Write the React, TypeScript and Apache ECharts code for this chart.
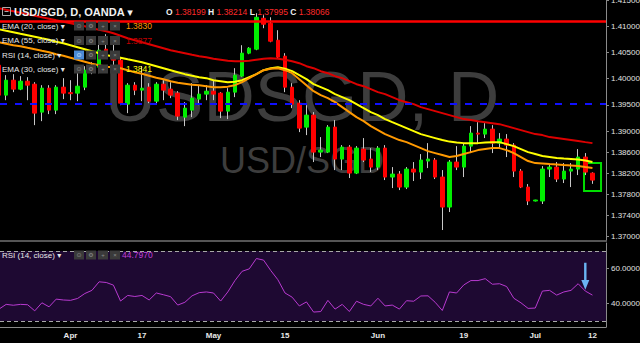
import React, { useEffect, useRef } from 'react';
import * as echarts from 'echarts';

// ---------- data ----------
const opens = [
  1.40257, 1.39686, 1.39971, 1.39800, 1.39952, 1.39895, 1.39362, 1.39819, 1.39400, 1.39838,
  1.39733, 1.39724, 1.39838, 1.40143, 1.40219, 1.40562, 1.40505, 1.40352, 1.39514, 1.39876,
  1.39781, 1.39838, 1.39571, 1.39895, 1.39800, 1.39724, 1.39267, 1.39400, 1.39610, 1.39705,
  1.39762, 1.39724, 1.39381, 1.39743, 1.40048, 1.40486, 1.40562, 1.41152, 1.41057, 1.40733,
  1.40429, 1.39838, 1.39533, 1.39076, 1.39305, 1.38600, 1.38600, 1.39076, 1.38467, 1.38695,
  1.38200, 1.38657, 1.38467, 1.38314, 1.38676, 1.38124, 1.38181, 1.37933, 1.38276, 1.38219,
  1.38429, 1.38448, 1.38124, 1.37552, 1.38410, 1.38314, 1.38714, 1.38962, 1.38943, 1.39038,
  1.38771, 1.38848, 1.38733, 1.38238, 1.37933, 1.37667, 1.37667, 1.38276, 1.38314, 1.38086,
  1.38238, 1.38276, 1.38505, 1.38199,
];
const highs = [
  1.40352, 1.40067, 1.40086, 1.40048, 1.40029, 1.39933, 1.39876, 1.39876, 1.39876, 1.40010,
  1.39971, 1.40105, 1.40238, 1.40314, 1.40733, 1.40848, 1.40790, 1.40390, 1.39914, 1.39933,
  1.40238, 1.39914, 1.39933, 1.39971, 1.39933, 1.39762, 1.39552, 1.39914, 1.39876, 1.39876,
  1.39971, 1.39743, 1.39819, 1.40200, 1.40638, 1.40600, 1.41248, 1.41210, 1.41171, 1.40924,
  1.40486, 1.39914, 1.39590, 1.39495, 1.39362, 1.38886, 1.39114, 1.39210, 1.38733, 1.38733,
  1.38714, 1.38867, 1.38676, 1.38714, 1.38733, 1.38314, 1.38238, 1.38314, 1.38410, 1.38562,
  1.38771, 1.38486, 1.38257, 1.38448, 1.38714, 1.38771, 1.39095, 1.39171, 1.39152, 1.39114,
  1.38962, 1.38943, 1.38771, 1.38276, 1.37990, 1.37690, 1.38333, 1.38352, 1.38410, 1.38390,
  1.38390, 1.38657, 1.38581, 1.38214,
];
const lows = [
  1.39629, 1.39590, 1.39743, 1.39781, 1.39590, 1.39114, 1.39190, 1.39324, 1.39324, 1.39610,
  1.39590, 1.39571, 1.39781, 1.40086, 1.40105, 1.40448, 1.40238, 1.39495, 1.39343, 1.39686,
  1.39571, 1.39533, 1.39514, 1.39590, 1.39629, 1.39210, 1.39095, 1.39267, 1.39495, 1.39590,
  1.39590, 1.39248, 1.39229, 1.39648, 1.40029, 1.40467, 1.40543, 1.40962, 1.40695, 1.40390,
  1.39743, 1.39438, 1.38981, 1.38924, 1.38410, 1.38505, 1.38581, 1.38257, 1.38257, 1.38105,
  1.38181, 1.38410, 1.38219, 1.38257, 1.38067, 1.37914, 1.37876, 1.37895, 1.38048, 1.38086,
  1.38295, 1.38086, 1.37114, 1.37457, 1.38257, 1.38124, 1.38581, 1.38771, 1.38867, 1.38581,
  1.38676, 1.38505, 1.38124, 1.37914, 1.37590, 1.37660, 1.37610, 1.38124, 1.38029, 1.38010,
  1.37933, 1.38162, 1.38162, 1.37995,
];
const closes = [
  1.39686, 1.39971, 1.39800, 1.39952, 1.39876, 1.39343, 1.39819, 1.39400, 1.39838, 1.39724,
  1.39714, 1.39857, 1.40162, 1.40238, 1.40543, 1.40524, 1.40352, 1.39533, 1.39876, 1.39781,
  1.39819, 1.39571, 1.39895, 1.39781, 1.39686, 1.39286, 1.39438, 1.39629, 1.39705, 1.39762,
  1.39705, 1.39381, 1.39743, 1.40067, 1.40486, 1.40581, 1.41171, 1.41038, 1.40714, 1.40410,
  1.39838, 1.39514, 1.39057, 1.39305, 1.38600, 1.38638, 1.39076, 1.38467, 1.38695, 1.38200,
  1.38676, 1.38448, 1.38314, 1.38676, 1.38124, 1.38181, 1.37933, 1.38276, 1.38219, 1.38448,
  1.38467, 1.38124, 1.37552, 1.38410, 1.38314, 1.38714, 1.38962, 1.38943, 1.39038, 1.38771,
  1.38848, 1.38733, 1.38238, 1.37933, 1.37667, 1.37686, 1.38276, 1.38314, 1.38086, 1.38238,
  1.38276, 1.38505, 1.38219, 1.38066,
];
const ema20 = [
  1.40695, 1.40667, 1.40638, 1.40619, 1.40590, 1.40562, 1.40533, 1.40505, 1.40467, 1.40438,
  1.40400, 1.40362, 1.40324, 1.40286, 1.40257, 1.40229, 1.40219, 1.40200, 1.40162, 1.40124,
  1.40095, 1.40057, 1.40019, 1.39990, 1.39952, 1.39924, 1.39905, 1.39886, 1.39876, 1.39857,
  1.39838, 1.39838, 1.39848, 1.39876, 1.39933, 1.40010, 1.40086, 1.40162, 1.40190, 1.40200,
  1.40162, 1.40105, 1.39990, 1.39876, 1.39762, 1.39686, 1.39629, 1.39552, 1.39457, 1.39362,
  1.39267, 1.39190, 1.39095, 1.39019, 1.38943, 1.38886, 1.38829, 1.38790, 1.38733, 1.38676,
  1.38619, 1.38581, 1.38543, 1.38505, 1.38524, 1.38562, 1.38600, 1.38638, 1.38657, 1.38676,
  1.38676, 1.38638, 1.38581, 1.38505, 1.38429, 1.38390, 1.38381, 1.38371, 1.38362, 1.38352,
  1.38343, 1.38333, 1.38314, 1.38298,
];
const ema30 = [
  1.40943, 1.40914, 1.40886, 1.40857, 1.40829, 1.40800, 1.40771, 1.40743, 1.40705, 1.40676,
  1.40638, 1.40600, 1.40562, 1.40524, 1.40486, 1.40448, 1.40429, 1.40400, 1.40371, 1.40343,
  1.40314, 1.40276, 1.40238, 1.40200, 1.40162, 1.40124, 1.40086, 1.40057, 1.40029, 1.40010,
  1.39971, 1.39952, 1.39933, 1.39943, 1.39971, 1.40029, 1.40086, 1.40162, 1.40200, 1.40219,
  1.40190, 1.40143, 1.40067, 1.39990, 1.39895, 1.39838, 1.39781, 1.39705, 1.39648, 1.39590,
  1.39514, 1.39438, 1.39362, 1.39305, 1.39229, 1.39171, 1.39114, 1.39057, 1.39000, 1.38943,
  1.38905, 1.38867, 1.38829, 1.38800, 1.38781, 1.38771, 1.38771, 1.38771, 1.38781, 1.38790,
  1.38790, 1.38752, 1.38714, 1.38657, 1.38600, 1.38562, 1.38524, 1.38505, 1.38486, 1.38476,
  1.38467, 1.38457, 1.38438, 1.38410,
];
const ema55 = [
  1.41343, 1.41314, 1.41286, 1.41257, 1.41229, 1.41200, 1.41171, 1.41143, 1.41114, 1.41086,
  1.41057, 1.41029, 1.41000, 1.40962, 1.40933, 1.40905, 1.40867, 1.40819, 1.40771, 1.40733,
  1.40695, 1.40657, 1.40619, 1.40581, 1.40543, 1.40514, 1.40486, 1.40457, 1.40429, 1.40410,
  1.40381, 1.40362, 1.40343, 1.40333, 1.40333, 1.40343, 1.40362, 1.40381, 1.40390, 1.40381,
  1.40362, 1.40333, 1.40295, 1.40238, 1.40200, 1.40143, 1.40105, 1.40048, 1.40010, 1.39952,
  1.39895, 1.39857, 1.39800, 1.39743, 1.39705, 1.39648, 1.39590, 1.39552, 1.39514, 1.39457,
  1.39419, 1.39381, 1.39343, 1.39305, 1.39267, 1.39229, 1.39210, 1.39190, 1.39171, 1.39152,
  1.39133, 1.39095, 1.39057, 1.39019, 1.38981, 1.38943, 1.38924, 1.38886, 1.38867, 1.38848,
  1.38829, 1.38810, 1.38790, 1.38771,
];
const rsi14 = [
  36.8, 39.5, 39.0, 39.5, 39.3, 35.8, 40.4, 38.1, 42.5, 42.0,
  41.8, 42.9, 45.7, 47.5, 52.4, 52.0, 50.5, 41.4, 44.6, 44.0,
  44.6, 42.0, 46.0, 45.0, 43.9, 39.1, 40.7, 44.4, 46.2, 46.6,
  46.0, 41.4, 46.6, 53.1, 58.4, 59.8, 65.7, 64.8, 58.9, 53.6,
  46.0, 43.6, 38.6, 40.9, 35.1, 35.4, 41.8, 36.8, 39.5, 35.4,
  41.3, 39.5, 38.6, 43.0, 38.6, 39.1, 36.8, 41.6, 41.3, 44.3,
  44.4, 40.7, 36.0, 46.6, 46.0, 50.6, 53.1, 53.1, 54.2, 51.0,
  51.3, 49.7, 43.0, 40.4, 37.2, 37.4, 47.1, 47.5, 44.8, 46.6,
  47.5, 51.3, 47.1, 44.797,
];
const priceTicks = [1.415, 1.41, 1.405, 1.4, 1.395, 1.39, 1.386, 1.382, 1.378, 1.374, 1.37];
const rsiTicks = [40, 60];
const rsiBands = [30, 70];
const dateTickIndex = [10, 20, 30, 40, 53, 65, 75, 83];
const dateTickLabels = ['Apr', '17', 'May', '15', 'Jun', '19', 'Jul', '12'];
const resistanceLevel = 1.41095;
const supportLevel = 1.39514;
const highlightFrom = 81.82;
const highlightTo = 84.2;
const highlightTop = 1.3839;
const highlightBottom = 1.37857;
const arrowIndex = 82;
const arrowValue = 55.5;

// ---------- layout ----------
const FONT = '"Liberation Sans", Arial, "DejaVu Sans", sans-serif';
const PLOT_W = 606;
const X_MIN = 0.14;
const X_MAX = 84.895;
const P_MIN = 1.369048;
const P_MAX = 1.415;
const R_MIN = 26.571;
const R_MAX = 74.571;

function legendRow(y: number, name: string, value: string, valueColor: string, blue: boolean, valueX = 126): any[] {
  const els: any[] = [];
  els.push({
    type: 'text', x: 2, y, z: 100,
    style: { text: name + ' \u25BE', fill: '#e6e6e6', font: `8px ${FONT}`, verticalAlign: 'middle' },
  });
  const glyphs = ['\u2299', '\u2699', '+', '\u00D7'];
  [74, 86, 98, 110].forEach((x, k) => {
    els.push({
      type: 'rect', z: 100,
      shape: { x, y: y - 4.5, width: 10, height: 9 },
      style: { fill: blue && k === 0 ? '#4a8ad6' : '#3a3a3a' },
    });
    els.push({
      type: 'text', x: x + 5, y, z: 101,
      style: { text: glyphs[k], fill: blue && k === 0 ? '#dfeaff' : '#8c8c8c', font: `6px ${FONT}`, align: 'center', verticalAlign: 'middle' },
    });
  });
  if (value) {
    els.push({
      type: 'text', x: valueX, y, z: 100,
      style: { text: value, fill: valueColor, font: `8.5px ${FONT}`, verticalAlign: 'middle' },
    });
  }
  return els;
}

export default function App() {
  const ref = useRef<HTMLDivElement>(null);

  useEffect(() => {
    if (!ref.current) return;
    const chart = echarts.init(ref.current, null, { renderer: 'svg' });
    const n = opens.length;
    const last = n - 1;

    const wickData = opens.map((o, i) => [i, o, closes[i], lows[i], highs[i]]);
    const bodyData = opens.map((o, i) => [i, o, closes[i], Math.min(o, closes[i]), Math.max(o, closes[i])]);

    const graphics: any[] = [
      // watermark
      {
        type: 'text', x: 302, y: 96, z: -10,
        style: { text: 'USDSGD, D', fill: '#3d3d3d', font: `71px ${FONT}`, align: 'center', verticalAlign: 'middle' },
      },
      {
        type: 'text', x: 302, y: 160, z: -10,
        style: { text: 'USD/SGD', fill: '#3d3d3d', font: `36px ${FONT}`, align: 'center', verticalAlign: 'middle' },
      },
      // header
      {
        type: 'rect', z: 100, shape: { x: 2.5, y: 7.5, width: 8, height: 8 },
        style: { fill: 'none', stroke: '#aaaaaa', lineWidth: 1 },
      },
      {
        type: 'line', z: 100, shape: { x1: 4.5, y1: 11.5, x2: 8.5, y2: 11.5 },
        style: { stroke: '#aaaaaa', lineWidth: 1 },
      },
      {
        type: 'text', x: 14, y: 12, z: 100,
        style: { text: 'USD/SGD, D, OANDA \u25BE', fill: '#f2f2f2', font: `bold 11px ${FONT}`, verticalAlign: 'middle' },
      },
      {
        type: 'text', x: 166, y: 12, z: 100,
        style: {
          text: `{l|O} {v|${opens[last].toFixed(5)}} {l|H} {v|${highs[last].toFixed(5)}} {l|L} {v|${lows[last].toFixed(5)}} {l|C} {v|${closes[last].toFixed(5)}}`,
          font: `8.5px ${FONT}`, fill: '#ffffff', verticalAlign: 'middle',
          rich: {
            l: { fill: '#f0f0f0', fontWeight: 'bold', fontSize: 8.5, fontFamily: FONT },
            v: { fill: '#ff2a2a', fontSize: 8.5, fontFamily: FONT },
          },
        },
      },
      ...legendRow(26, 'EMA (20, close)', ema20[last].toFixed(4), '#ff9900', false),
      ...legendRow(40.5, 'EMA (55, close)', ema55[last].toFixed(4), '#c40000', false),
      ...legendRow(55, 'RSI (14, close)', '', '', true),
      ...legendRow(69, 'EMA (30, close)', ema30[last].toFixed(4), '#ffff00', false),
      ...legendRow(255, 'RSI (14, close)', rsi14[last].toFixed(4), '#c040d8', false, 122),
    ];

    const option: any = {
      animation: false,
      backgroundColor: '#000000',
      textStyle: { fontFamily: FONT },
      grid: [
        { left: 0, top: 0, width: PLOT_W, height: 241, outerBoundsMode: 'none' },
        { left: 0, top: 243, width: PLOT_W, height: 84, outerBoundsMode: 'none' },
      ],
      xAxis: [
        {
          type: 'value', gridIndex: 0, min: X_MIN, max: X_MAX,
          axisLine: { show: true, lineStyle: { color: '#555555', width: 2 } },
          axisTick: { show: false }, axisLabel: { show: false }, splitLine: { show: false },
        },
        {
          type: 'value', gridIndex: 1, min: X_MIN, max: X_MAX,
          axisLine: { show: true, lineStyle: { color: '#8a8a8a', width: 1 } },
          axisTick: { show: false },
          axisLabel: {
            show: true, customValues: dateTickIndex, color: '#e8e8e8', fontSize: 8, fontWeight: 'bold', margin: 4,
            formatter: (v: number) => {
              const k = dateTickIndex.indexOf(Math.round(v));
              return k >= 0 ? dateTickLabels[k] : '';
            },
          },
          splitLine: { show: false },
        },
      ],
      yAxis: [
        {
          type: 'value', gridIndex: 0, position: 'right', min: P_MIN, max: P_MAX, scale: true,
          axisLine: { show: true, lineStyle: { color: '#8a8a8a' } },
          axisTick: { show: true, customValues: priceTicks, length: 3, lineStyle: { color: '#8a8a8a' } },
          axisLabel: {
            show: true, customValues: priceTicks, color: '#e0e0e0', fontSize: 8, margin: 5,
            showMaxLabel: true,
            formatter: (v: number) => v.toFixed(5),
          },
          splitLine: { show: false },
        },
        {
          type: 'value', gridIndex: 1, position: 'right', min: R_MIN, max: R_MAX,
          axisLine: { show: true, lineStyle: { color: '#8a8a8a' } },
          axisTick: { show: true, customValues: rsiTicks, length: 3, lineStyle: { color: '#8a8a8a' } },
          axisLabel: {
            show: true, customValues: rsiTicks, color: '#e0e0e0', fontSize: 8, margin: 5,
            formatter: (v: number) => v.toFixed(4),
          },
          splitLine: { show: false },
        },
      ],
      series: [
        {
          name: 'wicks', type: 'candlestick', xAxisIndex: 0, yAxisIndex: 0,
          data: wickData, encode: { x: 0, y: [1, 2, 3, 4] },
          barWidth: 1, z: 2,
          itemStyle: { color: '#c8c8c8', color0: '#c8c8c8', borderColor: '#c8c8c8', borderColor0: '#c8c8c8', borderWidth: 1 },
        },
        {
          name: 'USD/SGD', type: 'candlestick', xAxisIndex: 0, yAxisIndex: 0,
          data: bodyData, encode: { x: 0, y: [1, 2, 3, 4] },
          barWidth: 4, z: 3, clip: false,
          itemStyle: { color: '#00ee00', color0: '#ff0000', borderColor: '#00ee00', borderColor0: '#ff0000', borderWidth: 1 },
          markLine: {
            silent: true, symbol: ['none', 'none'], animation: false, precision: 6,
            label: { show: false },
            data: [
              { yAxis: resistanceLevel, lineStyle: { color: '#ff0000', width: 2.5, type: 'solid' }, label: { show: false } },
              { yAxis: supportLevel, lineStyle: { color: '#1010ff', width: 2, type: [7, 8] }, label: { show: false } },
              {
                yAxis: closes[last],
                lineStyle: { width: 0, opacity: 0 },
                label: {
                  show: true, position: 'end', distance: 1,
                  formatter: closes[last].toFixed(5),
                  backgroundColor: '#ff1a1a', color: '#ffffff', fontSize: 8, fontFamily: FONT,
                  padding: [3, 4, 2, 4],
                },
              },
            ],
          },
          markArea: {
            silent: true,
            itemStyle: { color: 'rgba(0,0,0,0)', borderColor: '#00dd00', borderWidth: 2 },
            data: [[{ xAxis: highlightFrom, yAxis: highlightTop }, { xAxis: highlightTo, yAxis: highlightBottom }]],
          },
        },
        {
          name: 'EMA 55', type: 'line', xAxisIndex: 0, yAxisIndex: 0, z: 4,
          data: ema55.map((v, i) => [i, v]), showSymbol: false, symbol: 'none',
          lineStyle: { color: '#dd0000', width: 2 },
        },
        {
          name: 'EMA 30', type: 'line', xAxisIndex: 0, yAxisIndex: 0, z: 4,
          data: ema30.map((v, i) => [i, v]), showSymbol: false, symbol: 'none',
          lineStyle: { color: '#ffff00', width: 2 },
        },
        {
          name: 'EMA 20', type: 'line', xAxisIndex: 0, yAxisIndex: 0, z: 4,
          data: ema20.map((v, i) => [i, v]), showSymbol: false, symbol: 'none',
          lineStyle: { color: '#ff9900', width: 2 },
        },
        {
          name: 'RSI', type: 'line', xAxisIndex: 1, yAxisIndex: 1, z: 4,
          data: rsi14.map((v, i) => [i, v]), showSymbol: false, symbol: 'none',
          lineStyle: { color: '#b83ad0', width: 1 },
          markArea: {
            silent: true,
            itemStyle: { color: '#1e0932' },
            data: [[{ yAxis: rsiBands[0] }, { yAxis: rsiBands[1] }]],
          },
          markLine: {
            silent: true, symbol: ['none', 'none'], precision: 4,
            label: { show: false },
            lineStyle: { color: '#a8a8a8', width: 1.2, type: [4, 3] },
            data: rsiBands.map((b) => ({ yAxis: b })),
          },
          markPoint: {
            silent: true,
            symbolKeepAspect: false,
            label: { show: false },
            data: [
              {
                coord: [arrowIndex, arrowValue],
                symbol: 'path://M3.5,0 L6.5,0 L6.5,19 L10,19 L5,30 L0,19 L3.5,19 Z',
                symbolSize: [8, 27],
                itemStyle: { color: '#6ab4f2' },
              },
            ],
          },
        },
      ],
      graphic: { elements: graphics },
    };

    chart.setOption(option);
    return () => chart.dispose();
  }, []);

  return (
    <div
      ref={ref}
      style={{ position: 'fixed', left: 0, top: 0, width: 640, height: 343, background: '#000' }}
    />
  );
}
